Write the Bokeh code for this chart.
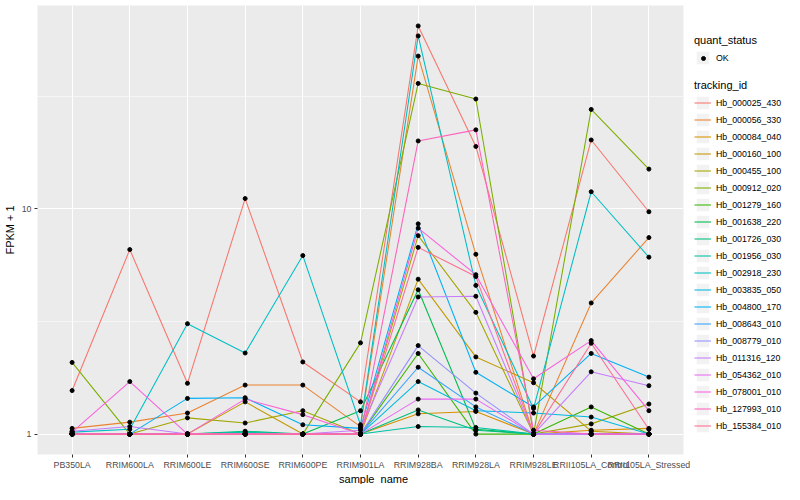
import math
from bokeh.plotting import figure
from bokeh.layouts import row, column
from bokeh.models import Range1d, FixedTicker, Legend, LegendItem, Label
from bokeh.embed import file_html
from bokeh.resources import INLINE

samples = ["PB350LA", "RRIM600LA", "RRIM600LE", "RRIM600SE", "RRIM600PE", "RRIM901LA",
           "RRIM928BA", "RRIM928LA", "RRIM928LE", "RRII105LA_Control", "RRII105LA_Stressed"]

tracking_ids = ["Hb_000025_430", "Hb_000056_330", "Hb_000084_040", "Hb_000160_100",
                "Hb_000455_100", "Hb_000912_020", "Hb_001279_160", "Hb_001638_220",
                "Hb_001726_030", "Hb_001956_030", "Hb_002918_230", "Hb_003835_050",
                "Hb_004800_170", "Hb_008643_010", "Hb_008779_010", "Hb_011316_120",
                "Hb_054362_010", "Hb_078001_010", "Hb_127993_010", "Hb_155384_010"]

colors = ["#F8766D", "#EA8331", "#D89000", "#C09B00", "#A3A500", "#7CAE00", "#39B600",
          "#00BB4E", "#00BF7D", "#00C1A3", "#00BFC4", "#00BAE0", "#00B0F6", "#35A2FF",
          "#9590FF", "#C77CFF", "#E76BF3", "#FA62DB", "#FF62BC", "#FF6C91"]

y_ticks = [1, 10]
y_tick_labels = ["1", "10"]

# FPKM + 1 per tracking_id, in sample order
hb_000025_430 = [1.56, 6.59, 1.68, 11.1, 2.09, 1.39, 64.8, 18.9, 2.22, 20.2, 9.7]
hb_000056_330 = [1.06, 1.13, 1.24, 1.65, 1.65, 1.08, 47.6, 6.28, 1.0, 3.82, 7.45]
hb_000084_040 = [1.0, 1.0, 1.0, 1.0, 1.0, 1.0, 1.23, 1.26, 1.0, 1.04, 1.06]
hb_000160_100 = [1.0, 1.0, 1.0, 1.39, 1.0, 1.0, 4.87, 2.2, 1.69, 1.03, 1.0]
hb_000455_100 = [1.0, 1.0, 1.18, 1.12, 1.27, 1.0, 7.6, 3.47, 1.0, 1.11, 1.36]
hb_000912_020 = [2.08, 1.0, 1.0, 1.0, 1.0, 2.54, 36.0, 30.7, 1.0, 27.6, 15.0]
hb_001279_160 = [1.0, 1.0, 1.0, 1.0, 1.0, 1.0, 2.28, 1.0, 1.0, 1.32, 1.0]
hb_001638_220 = [1.0, 1.0, 1.0, 1.0, 1.0, 1.27, 4.37, 1.05, 1.0, 1.0, 1.0]
hb_001726_030 = [1.0, 1.0, 1.0, 1.03, 1.0, 1.0, 1.28, 1.04, 1.0, 1.0, 1.0]
hb_001956_030 = [1.0, 1.0, 1.0, 1.02, 1.0, 1.0, 1.08, 1.07, 1.0, 1.0, 1.0]
hb_002918_230 = [1.02, 1.05, 3.09, 2.29, 6.2, 1.1, 58.5, 4.57, 1.3, 11.9, 6.1]
hb_003835_050 = [1.0, 1.0, 1.0, 1.0, 1.0, 1.0, 1.71, 1.27, 1.24, 1.19, 1.0]
hb_004800_170 = [1.0, 1.0, 1.44, 1.45, 1.10, 1.06, 8.57, 1.88, 1.32, 2.28, 1.79]
hb_008643_010 = [1.0, 1.0, 1.0, 1.0, 1.0, 1.0, 1.98, 1.32, 1.0, 1.0, 1.0]
hb_008779_010 = [1.0, 1.0, 1.0, 1.0, 1.0, 1.0, 2.47, 1.52, 1.0, 1.0, 1.0]
hb_011316_120 = [1.03, 1.08, 1.0, 1.0, 1.0, 1.04, 4.06, 4.09, 1.0, 1.89, 1.64]
hb_054362_010 = [1.0, 1.0, 1.0, 1.0, 1.0, 1.0, 1.43, 1.43, 1.0, 1.0, 1.0]
hb_078001_010 = [1.02, 1.71, 1.0, 1.43, 1.22, 1.0, 8.2, 5.1, 1.76, 2.6, 1.27]
hb_127993_010 = [1.0, 1.0, 1.0, 1.0, 1.0, 1.0, 20.0, 22.4, 1.04, 1.0, 1.0]
hb_155384_010 = [1.0, 1.0, 1.0, 1.0, 1.0, 1.0, 6.74, 5.0, 1.0, 2.53, 1.05]

series = [hb_000025_430, hb_000056_330, hb_000084_040, hb_000160_100, hb_000455_100,
          hb_000912_020, hb_001279_160, hb_001638_220, hb_001726_030, hb_001956_030,
          hb_002918_230, hb_003835_050, hb_004800_170, hb_008643_010, hb_008779_010,
          hb_011316_120, hb_054362_010, hb_078001_010, hb_127993_010, hb_155384_010]

xpos = list(range(1, len(samples) + 1))

allv = [v for s in series for v in s]
lmin, lmax = math.log10(min(allv)), math.log10(max(allv))
ex = 0.05 * (lmax - lmin)

FONT = "Liberation Sans"
H = 484
W2, W3 = 692, 92        # main plot, legend strip
HP = 472                # main plot height
HX = H - HP             # x-title strip height


def bare(w, h, xr, yr):
    f = figure(width=w, height=h, x_range=xr, y_range=yr, x_axis_type=None,
               y_axis_type=None, output_backend="svg", toolbar_location=None, min_border=0)
    f.min_border_left = 0
    f.min_border_right = 0
    f.min_border_top = 0
    f.min_border_bottom = 0
    f.outline_line_color = None
    f.background_fill_color = "white"
    f.border_fill_color = "white"
    f.grid.visible = False
    return f


# ---- main plot ----
p = figure(width=W2, height=HP, y_axis_type="log",
           x_range=Range1d(0.4, len(samples) + 0.6),
           y_range=Range1d(10 ** (lmin - ex), 10 ** (lmax + ex)),
           output_backend="svg", toolbar_location=None)
p.min_border_left = 20
p.min_border_right = 9
p.min_border_top = 5
p.min_border_bottom = 18
p.background_fill_color = "#EBEBEB"
p.border_fill_color = "white"
p.outline_line_color = None

p.xaxis.ticker = FixedTicker(ticks=xpos)
p.xaxis.major_label_overrides = {i: s for i, s in zip(xpos, samples)}
p.yaxis.ticker = FixedTicker(ticks=y_ticks, minor_ticks=[10 ** 0.5, 10 ** 1.5])
p.yaxis.major_label_overrides = {t: s for t, s in zip(y_ticks, y_tick_labels)}
for ax in (p.xaxis[0], p.yaxis[0]):
    ax.axis_line_color = None
    ax.major_tick_line_color = "#333333"
    ax.major_tick_out = 3
    ax.major_tick_in = 0
    ax.minor_tick_line_color = None
    ax.major_label_text_color = "#4D4D4D"
    ax.major_label_text_font = FONT
    ax.major_label_text_font_size = "8.8px"
    ax.major_label_standoff = 2
p.yaxis.axis_label = "FPKM + 1"
p.yaxis.axis_label_text_font = FONT
p.yaxis.axis_label_text_font_size = "11px"
p.yaxis.axis_label_text_font_style = "normal"
p.yaxis.axis_label_text_color = "black"
p.yaxis.axis_label_standoff = 3

p.xgrid.ticker = FixedTicker(ticks=xpos)
p.xgrid.grid_line_color = "white"
p.xgrid.grid_line_width = 1.1
p.ygrid.grid_line_color = "white"
p.ygrid.grid_line_width = 1.1
p.ygrid.minor_grid_line_color = "white"
p.ygrid.minor_grid_line_width = 0.55

for col, vals in zip(colors, series):
    p.line(xpos, vals, line_color=col, line_width=1.07)

px, py = [], []
for vals in series:
    px.extend(xpos)
    py.extend(vals)
p.scatter(px, py, size=4, marker="circle", fill_color="black", line_color="black")

# ---- x-title strip ----
xt = bare(W2, HX, Range1d(0, W2), Range1d(0, HX))
xt.add_layout(Label(x=360, y=HX / 2, text="sample_name",
                    text_font=FONT, text_font_size="11px", text_color="black",
                    text_align="center", text_baseline="middle"))

# ---- legend strip (its data lies outside its ranges, so only the legends show) ----
lf = bare(W3, H, Range1d(100, 101), Range1d(100, 101))
key_bg = lf.rect(x=xpos[:1], y=series[0][:1], width=1, height=1, fill_color="#F2F2F2",
                 line_color="white", line_width=1)
pt_key = lf.scatter(px, py, size=4, marker="circle", fill_color="black", line_color="black")
line_items = []
for tid, col, vals in zip(tracking_ids, colors, series):
    r = lf.line(xpos, vals, line_color=col, line_width=1.07)
    line_items.append(LegendItem(label=tid, renderers=[key_bg, r]))


def style_legend(lg, g=17):
    lg.title_text_font = FONT
    lg.title_text_font_size = "11px"
    lg.title_text_font_style = "normal"
    lg.title_text_color = "black"
    lg.title_standoff = 3
    lg.label_text_font = FONT
    lg.label_text_font_size = "8.8px"
    lg.label_text_color = "black"
    lg.label_standoff = 5
    lg.glyph_width = g
    lg.glyph_height = g
    lg.label_height = g
    lg.spacing = 0
    lg.padding = 0
    lg.margin = 0
    lg.border_line_color = None
    lg.background_fill_color = None


LX = 694 - W2
VY1 = H - 66
lg1 = Legend(items=[LegendItem(label="OK", renderers=[key_bg])],
             title="quant_status", location=(LX, VY1))
style_legend(lg1)
lg1b = Legend(items=[LegendItem(label=" ", renderers=[pt_key])],
              location=(LX + 3.5, VY1 + 3.5))
style_legend(lg1b, g=10)
lg2 = Legend(items=line_items, title="tracking_id", location=(LX, H - 434))
style_legend(lg2)
lf.add_layout(lg1, "center")
lf.add_layout(lg1b, "center")
lf.add_layout(lg2, "center")

layout = row(column(p, xt), lf)
open("out.html", "w").write(file_html(layout, INLINE))
